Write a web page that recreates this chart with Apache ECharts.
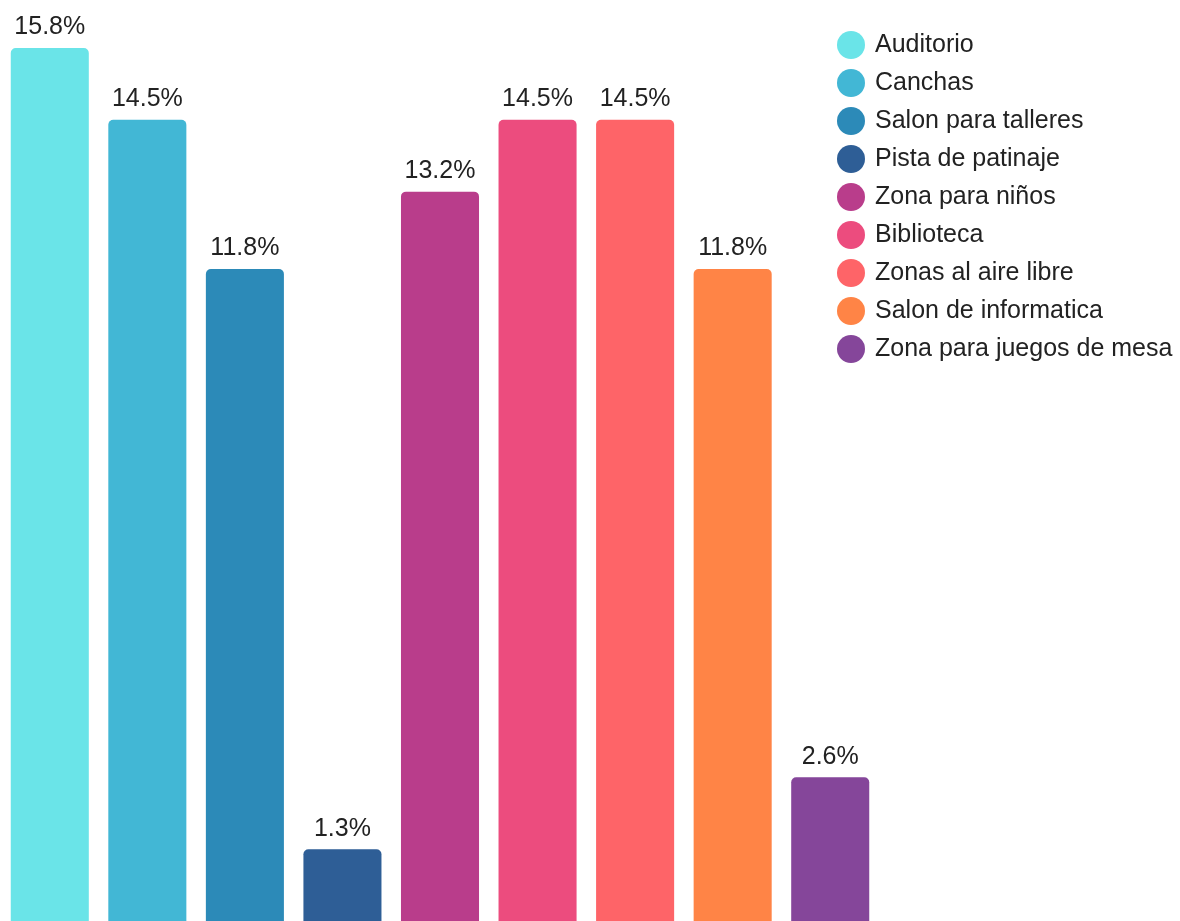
<!DOCTYPE html>
<html><head><meta charset="utf-8">
<script src="https://cdn.jsdelivr.net/npm/echarts@6/dist/echarts.min.js"></script>
<style>html,body{margin:0;padding:0;background:#fff}#c{width:1180px;height:921px}</style>
</head><body><div id="c"></div>
<script>
const categories = ["Auditorio","Canchas","Salon para talleres","Pista de patinaje","Zona para niños","Biblioteca","Zonas al aire libre","Salon de informatica","Zona para juegos de mesa"];
const values = [15.8,14.5,11.8,1.3,13.2,14.5,14.5,11.8,2.6];
const colors = ["#6ae4e8","#42b7d5","#2c8ab8","#2e5e96","#b93d8b","#ec4c7e","#fe6468","#ff8446","#85469a"];

const FONT = '"Liberation Sans", Arial, Helvetica, sans-serif';

const series = categories.map((name, i) => ({
  name: name,
  type: 'bar',
  stack: 'all',
  barWidth: '80%',
  itemStyle: { color: colors[i], borderRadius: [5,5,0,0] },
  label: { show: true, position: 'top', distance: 8, formatter: '{c}%', fontSize: 25, color: '#222', fontFamily: FONT },
  data: categories.map((c, j) => j === i ? values[i] : '-')
}));

const chart = echarts.init(document.getElementById('c'));
chart.setOption({
  animation: false,
  textStyle: { fontFamily: FONT },
  grid: { left: 1, right: 301, top: 48, bottom: 0, containLabel: false },
  xAxis: { type: 'category', data: categories, show: false },
  yAxis: { type: 'value', min: 0, max: 15.8, show: false },
  legend: {
    orient: 'vertical', left: 837, top: 31, padding: 0,
    icon: 'circle', itemWidth: 28, itemHeight: 28, itemGap: 10,
    textStyle: { fontSize: 25, color: '#222', fontFamily: FONT, padding: [0,0,0,5] },
    data: categories
  },
  series: series
});
</script></body></html>
